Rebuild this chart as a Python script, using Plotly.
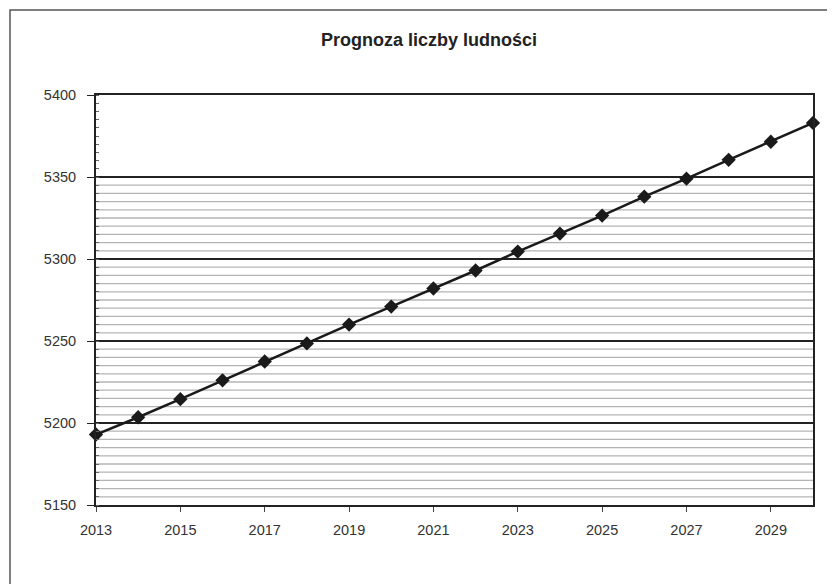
import plotly.graph_objects as go

years = list(range(2013, 2031))
population = [5193, 5203.5, 5214.5, 5226, 5237.5, 5248.5, 5260, 5271, 5282, 5293,
              5304.5, 5315.5, 5326.5, 5338, 5349, 5360.5, 5371.5, 5383]
title_text = "Prognoza liczby ludności"
x_ticks = list(range(2013, 2030, 2))
y_ticks = [5150, 5200, 5250, 5300, 5350, 5400]

W, H = 835, 584
OFF = 8  # page body offset
L, R, T, B = 96 - OFF, 30, 95 - OFF, 87
pw, ph = W - L - R, H - T - B


def px_x(p):
    return (p - OFF - L) / pw


def px_y(p):
    return (H - B - (p - OFF)) / ph


fig = go.Figure()
fig.add_trace(go.Scatter(
    x=years, y=population, mode="lines+markers",
    line=dict(color="#1a1a1a", width=2.5),
    marker=dict(symbol="diamond", size=11, color="#1a1a1a"),
    showlegend=False, cliponaxis=False,
))

# halftone-like stripes of the scanned plot area (below the 5350 gridline)
stripe_step = 5
stripes = [v for v in range(y_ticks[0] + stripe_step, y_ticks[-2], stripe_step) if v % 50 != 0]
shapes = [
    dict(type="line", xref="paper", yref="y", x0=0, x1=1, y0=v, y1=v,
         line=dict(color="#b4b4b4", width=1.3), layer="below")
    for v in stripes
]
shapes.append(dict(type="rect", xref="paper", yref="paper",
                   x0=px_x(10), x1=px_x(842), y0=px_y(10), y1=px_y(600),
                   line=dict(color="#555", width=1.5), fillcolor="rgba(0,0,0,0)", layer="below"))

fig.update_layout(
    width=W, height=H,
    margin=dict(l=L, r=R, t=T, b=B),
    paper_bgcolor="white", plot_bgcolor="white",
    title=dict(text="<b>" + title_text + "</b>", x=(429 - OFF) / W, xanchor="center",
               y=1 - (40 - OFF) / H, yanchor="middle",
               font=dict(family="Liberation Sans, Arial", size=18, color="#222")),
    font=dict(family="Liberation Sans, Arial", size=14, color="#333"),
    xaxis=dict(
        range=[2013, 2030], tickvals=x_ticks, ticktext=[str(v) for v in x_ticks],
        showgrid=False, zeroline=False,
        showline=True, linecolor="#222", linewidth=2, mirror=True,
        ticks="outside", ticklen=5, tickcolor="#444", tickwidth=1,
        ticklabelstandoff=6,
        tickfont=dict(size=14.5, color="#333"),
    ),
    yaxis=dict(
        range=[5150, 5400], tickvals=y_ticks,
        showgrid=True, gridcolor="#222", gridwidth=1.6, zeroline=False,
        showline=True, linecolor="#222", linewidth=2, mirror=True,
        ticks="outside", ticklen=7, tickcolor="#222",
        ticklabelstandoff=8,
        minor=dict(dtick=5, ticks="inside", ticklen=3, tickcolor="#666"),
        tickfont=dict(size=14.5, color="#333"),
    ),
    shapes=shapes,
)

fig.write_html("out.html")
